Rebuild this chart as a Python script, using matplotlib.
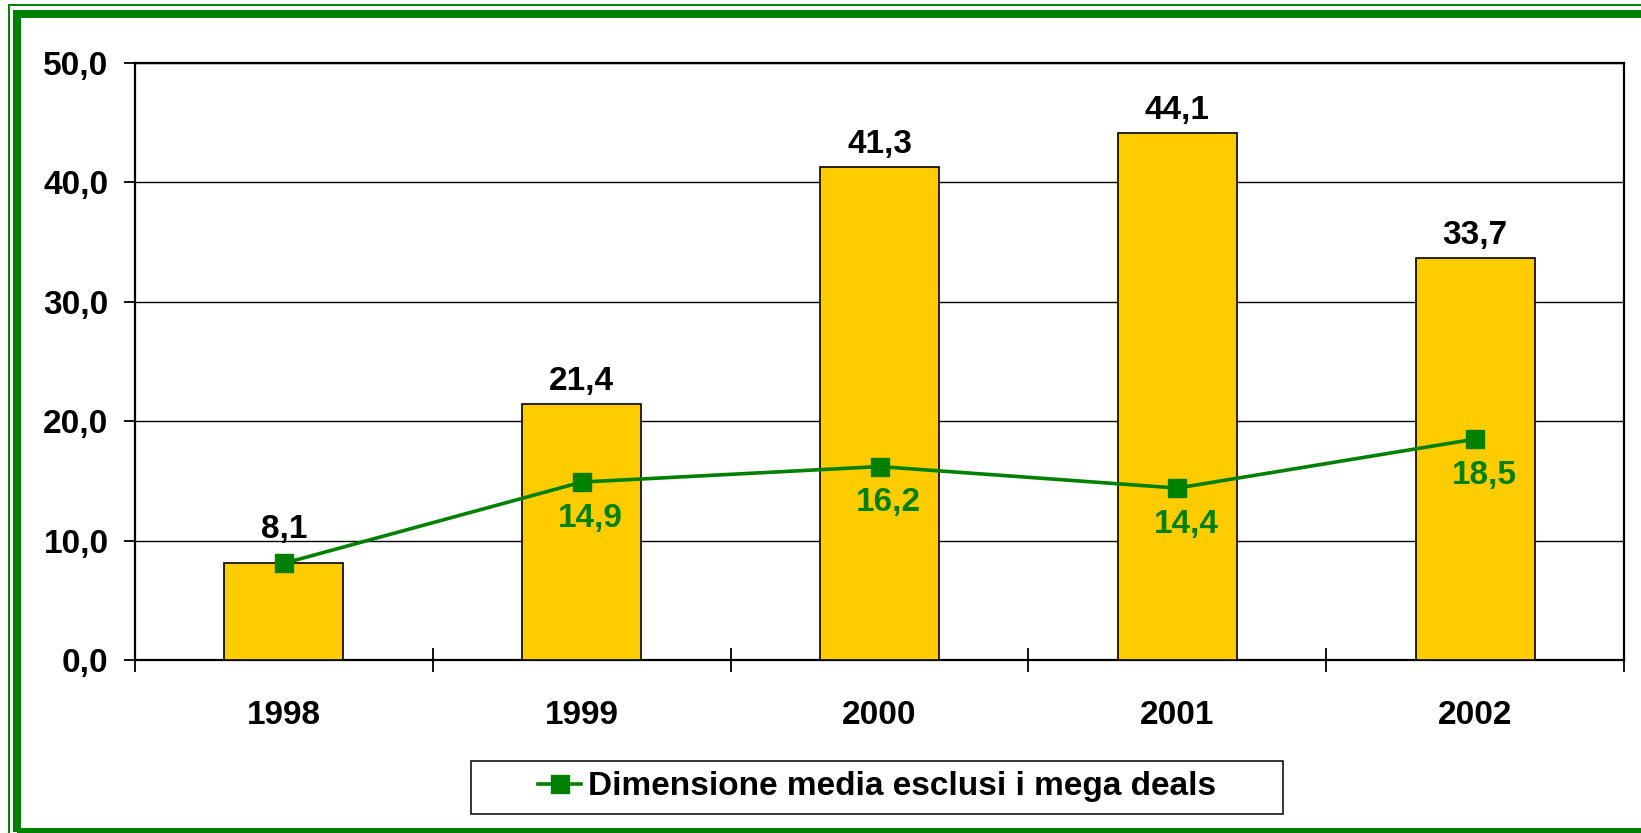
import numpy as np
import matplotlib
matplotlib.use("Agg")
import matplotlib.pyplot as plt
from matplotlib.patches import Rectangle

plt.rcParams['font.family'] = ['Liberation Sans', 'DejaVu Sans']
plt.rcParams['font.weight'] = 'bold'

# data
years = ['1998', '1999', '2000', '2001', '2002']
dimensione_media = [8.1, 21.4, 41.3, 44.1, 33.7]
media_esclusi_mega = [8.1, 14.9, 16.2, 14.4, 18.5]
legend_label = 'Dimensione media esclusi i mega deals'

bar_color = '#FFCC00'
green = '#008000'

W, H = 1641, 833


def fmt(v):
    return f'{v:.1f}'.replace('.', ',')


fig = plt.figure(figsize=(W / 100, H / 100), dpi=100)
ax = fig.add_axes([135 / W, 1 - 660 / H, (1624 - 135) / W, (660 - 63) / H])

x = np.arange(len(years))

ax.bar(x, dimensione_media, width=0.40, color=bar_color, edgecolor='black',
       linewidth=1.2, zorder=3)
ax.plot(x, media_esclusi_mega, color=green, linewidth=2.6, marker='s',
        markersize=13, zorder=4, label=legend_label)

# labels over the bars; the first one sits higher to clear the line marker
for i, (xi, v) in enumerate(zip(x, dimensione_media)):
    dy = 25 if i == 0 else 14
    ax.annotate(fmt(v), (xi, v), xytext=(0, dy), textcoords='offset pixels',
                ha='center', va='baseline', fontsize=24, fontweight='bold',
                color='black', zorder=5)

# labels under the line points (first one hidden in the original)
for xi, v in zip(x[1:], media_esclusi_mega[1:]):
    ax.annotate(fmt(v), (xi, v), xytext=(9, -36), textcoords='offset pixels',
                ha='center', va='center', fontsize=24, fontweight='bold',
                color=green, zorder=5)

ax.set_xlim(-0.5, len(years) - 0.5)
ax.set_ylim(0, 50)
ax.set_yticks(np.arange(0, 51, 10))
ax.set_yticklabels([fmt(v) for v in np.arange(0, 51, 10)])
ax.yaxis.grid(True, color='black', linewidth=1.0, zorder=0)
ax.set_axisbelow(True)

ax.set_xticks(np.arange(-0.5, len(years), 1.0))
ax.set_xticklabels([])
ax.set_xticks(x, minor=True)
ax.set_xticklabels(years, minor=True)
ax.tick_params(axis='x', which='major', direction='inout', length=17, width=1.3)
ax.tick_params(axis='x', which='minor', length=0, pad=29, labelsize=24)
ax.tick_params(axis='y', direction='out', length=8, width=1.3, pad=11, labelsize=24)

for s in ax.spines.values():
    s.set_linewidth(1.6)
    s.set_color('black')

# legend: wide box drawn by hand behind it, legend itself without frame
ax.legend(loc='center', bbox_to_anchor=(877 / W, 1 - 787 / H),
          bbox_transform=fig.transFigure, frameon=False,
          handlelength=1.3, handletextpad=0.2, borderpad=0.35,
          prop={'weight': 'bold', 'size': 24})
fig.add_artist(Rectangle((471 / W, 1 - 814 / H), (1283 - 471) / W, (814 - 761) / H,
                         transform=fig.transFigure, fill=False,
                         edgecolor='black', linewidth=1.1, zorder=-1))

# green double border around the picture
fig.add_artist(Rectangle((17 / W, 1 - 832 / H), 2, (832 - 13.5) / H,
                         transform=fig.transFigure, fill=False,
                         edgecolor=green, linewidth=5.8))
fig.add_artist(Rectangle((9 / W, -0.1), 2, 1.1 - 5 / H,
                         transform=fig.transFigure, fill=False,
                         edgecolor=green, linewidth=1.4))

fig.savefig('out.png', dpi=100)
